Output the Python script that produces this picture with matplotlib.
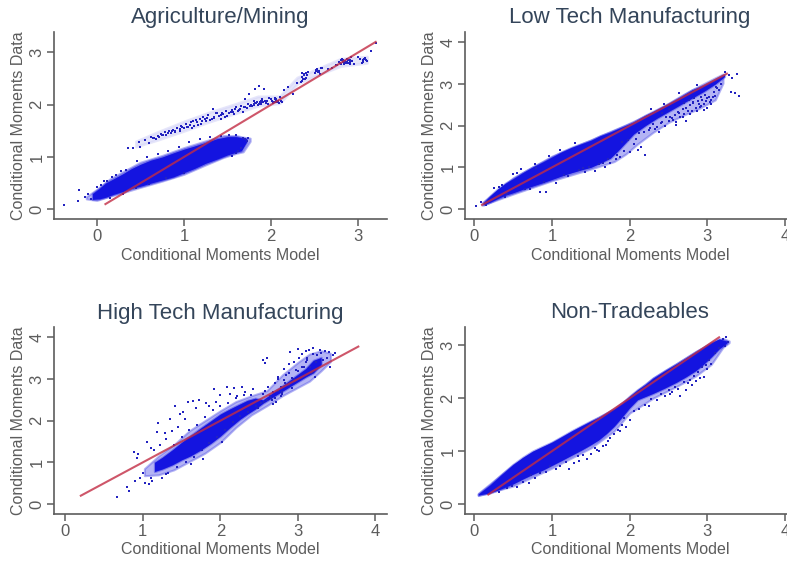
import matplotlib
matplotlib.use('Agg')
import matplotlib.pyplot as plt

# titles and labels
titles = ['Agriculture/Mining', 'Low Tech Manufacturing', 'High Tech Manufacturing', 'Non-Tradeables']
x_label = 'Conditional Moments Model'
y_label = 'Conditional Moments Data'

# ticks
ag_xticks = [0, 1, 2, 3]
ag_yticks = [0, 1, 2, 3]
low_xticks = [0, 1, 2, 3, 4]
low_yticks = [0, 1, 2, 3, 4]
high_xticks = [0, 1, 2, 3, 4]
high_yticks = [0, 1, 2, 3, 4]
non_xticks = [0, 1, 2, 3, 4]
non_yticks = [0, 1, 2, 3]

# fitted lines
ag_line = [0.1, 3.2]
low_line = [0.1, 3.25]
high_line = [0.2, 3.78]
non_line = [0.18, 3.15]

# solid part of each cloud, upper and lower edge
ag_band_x = [-0.05, 0.03, 0.1, 0.2, 0.3, 0.4, 0.5, 0.62, 0.75, 0.88, 1.0, 1.12, 1.25, 1.38, 1.5, 1.6, 1.66, 1.72]
ag_band_lo = [0.19, 0.2, 0.23, 0.29, 0.34, 0.4, 0.44, 0.5, 0.56, 0.62, 0.7, 0.78, 0.88, 0.96, 1.04, 1.09, 1.12, 1.29]
ag_band_hi = [0.3, 0.4, 0.5, 0.59, 0.68, 0.78, 0.86, 0.94, 1.0, 1.08, 1.15, 1.21, 1.28, 1.35, 1.39, 1.39, 1.37, 1.35]

low_band_x = [0.12, 0.2, 0.3, 0.4, 0.5, 0.62, 0.75, 0.88, 1.0, 1.12, 1.25, 1.38, 1.5, 1.62, 1.75, 1.85, 1.95, 2.05, 2.2, 2.35, 2.5, 2.65, 2.8, 2.95, 3.1, 3.22]
low_band_lo = [0.1, 0.16, 0.25, 0.33, 0.39, 0.47, 0.55, 0.63, 0.71, 0.79, 0.87, 0.94, 1.0, 1.1, 1.22, 1.4, 1.6, 1.8, 2.0, 2.18, 2.34, 2.5, 2.66, 2.82, 3.0, 3.18]
low_band_hi = [0.16, 0.31, 0.48, 0.62, 0.73, 0.87, 1.01, 1.13, 1.25, 1.37, 1.48, 1.57, 1.65, 1.76, 1.85, 1.93, 2.01, 2.09, 2.25, 2.39, 2.53, 2.69, 2.86, 2.97, 3.11, 3.23]

high_band_x = [1.15, 1.25, 1.38, 1.5, 1.62, 1.75, 1.88, 2.0, 2.12, 2.25, 2.35, 2.45, 2.55, 3.1, 3.2, 3.3]
high_band_lo = [0.78, 0.84, 0.94, 1.06, 1.16, 1.3, 1.46, 1.63, 1.83, 2.03, 2.16, 2.28, 2.42, 3.05, 3.15, 3.35]
high_band_hi = [1.0, 1.12, 1.3, 1.48, 1.65, 1.83, 2.0, 2.16, 2.28, 2.4, 2.49, 2.54, 2.5, 3.25, 3.45, 3.52]

non_band_x = [0.05, 0.2, 0.35, 0.5, 0.62, 0.75, 0.88, 1.0, 1.12, 1.25, 1.38, 1.5, 1.6, 1.7, 1.8, 1.9, 2.0, 2.1, 2.2, 2.3, 2.45, 2.6, 2.72, 2.85, 2.95, 3.05, 3.15, 3.25]
non_band_lo = [0.17, 0.21, 0.29, 0.38, 0.47, 0.56, 0.64, 0.73, 0.82, 0.92, 1.02, 1.12, 1.21, 1.33, 1.47, 1.64, 1.82, 1.97, 2.03, 2.09, 2.19, 2.3, 2.4, 2.52, 2.64, 2.78, 2.93, 3.04]
non_band_hi = [0.19, 0.36, 0.56, 0.75, 0.88, 1.0, 1.09, 1.17, 1.27, 1.38, 1.48, 1.57, 1.64, 1.72, 1.8, 1.9, 2.04, 2.16, 2.26, 2.38, 2.52, 2.65, 2.76, 2.88, 2.96, 3.05, 3.12, 3.08]

# thinner speckled part of each cloud, drawn in a paler blue behind the solid part
ag_pale_x = [-0.12, 0.0, 0.15, 0.3, 0.5, 0.75, 1.0, 1.25, 1.45, 1.6, 1.68, 1.76]
ag_pale_lo = [0.2, 0.17, 0.25, 0.32, 0.42, 0.54, 0.67, 0.85, 0.99, 1.07, 1.1, 1.3]
ag_pale_hi = [0.24, 0.38, 0.58, 0.72, 0.9, 1.03, 1.18, 1.31, 1.41, 1.41, 1.38, 1.36]

ag_upper_x = [0.45, 0.7, 1.0, 1.3, 1.6, 1.85, 2.1, 2.3, 2.55, 2.8, 3.1]
ag_upper_lo = [1.2, 1.33, 1.5, 1.68, 1.84, 1.98, 2.03, 2.4, 2.58, 2.74, 2.8]
ag_upper_hi = [1.3, 1.48, 1.68, 1.86, 2.02, 2.16, 2.16, 2.52, 2.7, 2.88, 2.92]

low_pale_x = [0.1, 0.5, 1.0, 1.5, 1.8, 1.95, 2.1, 2.3, 2.5, 2.7, 2.9, 3.1, 3.2]
low_pale_lo = [0.09, 0.36, 0.68, 0.96, 1.14, 1.32, 1.56, 1.84, 2.08, 2.26, 2.42, 2.62, 3.02]
low_pale_hi = [0.15, 0.75, 1.27, 1.66, 1.9, 2.02, 2.15, 2.33, 2.54, 2.76, 2.96, 3.15, 3.24]

high_pale_x = [1.02, 1.2, 1.4, 1.6, 1.8, 2.0, 2.2, 2.4, 2.6, 2.8, 3.0, 3.15, 3.3, 3.42]
high_pale_lo = [0.68, 0.7, 0.82, 1.02, 1.22, 1.48, 1.84, 2.14, 2.36, 2.6, 2.8, 2.95, 3.2, 3.42]
high_pale_hi = [0.85, 1.15, 1.42, 1.76, 2.0, 2.24, 2.46, 2.6, 2.72, 3.1, 3.4, 3.6, 3.68, 3.62]

non_pale_x = [0.05, 0.5, 1.0, 1.5, 1.8, 2.0, 2.3, 2.6, 2.85, 3.05, 3.2, 3.28]
non_pale_lo = [0.16, 0.34, 0.68, 1.06, 1.38, 1.72, 2.0, 2.22, 2.42, 2.64, 2.96, 3.05]
non_pale_hi = [0.2, 0.74, 1.16, 1.56, 1.8, 2.03, 2.38, 2.65, 2.88, 3.05, 3.13, 3.08]

# separate points, upper branch and edges
ag_x = [-0.37, -0.22, -0.2, -0.14, -0.1, -0.07, 0.0, 0.05, 0.12, 0.18,
        0.28, 0.36, 0.42, 0.48, 0.5, 0.55, 0.6, 0.64, 0.68, 0.7,
        0.72, 0.75, 0.78, 0.8, 0.83, 0.85, 0.88, 0.9, 0.92, 0.95,
        0.97, 1.0, 1.02, 1.05, 1.07, 1.1, 1.12, 1.15, 1.18, 1.2,
        1.22, 1.25, 1.28, 1.3, 1.33, 1.35, 1.38, 1.4, 1.42, 1.45,
        1.48, 1.5, 1.52, 1.55, 1.58, 1.6, 1.62, 1.65, 1.68, 1.7,
        1.72, 1.75, 1.78, 1.8, 1.82, 1.84, 1.86, 1.88, 1.9, 1.92,
        1.95, 2.0, 2.03, 2.05, 2.08, 2.1, 2.15, 2.2, 2.25, 2.3,
        2.35, 2.38, 2.4, 2.42, 2.5, 2.53, 2.55, 2.58, 2.65, 2.7,
        2.75, 2.8, 2.83, 2.85, 2.87, 2.9, 2.95, 3.0, 3.05, 3.1,
        3.15, 3.2, 1.7, 1.72, 1.68, 1.62, 1.6, 1.66, 1.55, 1.74,
        1.84, 1.86, 1.9, 1.8, 2.04, 2.07, 2.02, 2.38, 2.36, 2.4,
        2.84, 2.86, 2.88, 2.82, 2.9, 2.8, 3.07, 3.09, 2.55, 2.53,
        0.62, 0.74, 0.86, 0.98, 1.08, 1.16, 1.24, 1.34, 1.44, 1.56,
        1.64, 1.7, 1.76, 1.82, 1.88, 1.94, 1.98, 2.06, 2.12, 2.36,
        2.39, 2.52, 2.56, 2.78, 2.81, 2.84, 2.87, 2.89, 2.92, 3.04,
        0.08, 0.22, 0.34, 0.46, 0.58, 0.7, 0.82, 0.94, 1.06, 1.18,
        1.3, 1.42, 1.52, 1.6, 0.15, 0.3, 0.45, 0.6, 0.8, 1.0,
        0.66, 0.76, 0.82, 0.9, 0.96, 1.03, 1.09, 1.14, 1.21, 1.26,
        1.32, 1.37, 1.43, 1.47, 1.54, 1.59, 1.63, 1.69, 1.73, 1.77,
        1.81, 1.83, 1.85, 1.87, 1.89, 1.91, 1.93, 1.96, 2.01, 2.04,
        2.06, 2.09, 2.11, 2.34, 2.37, 2.41, 2.51, 2.54, 2.57, 2.76,
        2.79, 2.82, 2.85, 2.86, 2.88, 2.91, 2.93, 3.02, 3.06, 3.08]
ag_y = [0.09, 0.16, 0.36, 0.24, 0.3, 0.2, 0.42, 0.47, 0.54, 0.62,
        0.74, 1.18, 1.17, 1.29, 1.2, 1.33, 1.26, 1.37, 1.34, 1.4,
        1.38, 1.43, 1.47, 1.42, 1.5, 1.46, 1.52, 1.48, 1.56, 1.5,
        1.6, 1.55, 1.64, 1.58, 1.62, 1.68, 1.6, 1.66, 1.72, 1.64,
        1.76, 1.68, 1.8, 1.7, 1.92, 1.75, 1.85, 1.78, 1.72, 1.82,
        1.88, 1.78, 1.84, 1.9, 1.82, 1.95, 1.88, 1.98, 1.86, 2.1,
        1.94, 2.2, 1.98, 2.02, 2.3, 2.06, 2.36, 2.04, 2.1, 2.3,
        2.08, 2.1, 2.05, 2.12, 2.08, 2.15, 2.28, 2.34, 2.2, 2.42,
        2.46, 2.58, 2.52, 2.62, 2.6, 2.66, 2.62, 2.7, 2.68, 2.7,
        2.75, 2.78, 2.84, 2.8, 2.88, 2.82, 2.78, 2.92, 2.86, 2.84,
        3.02, 3.18, 1.34, 1.3, 1.37, 1.12, 1.08, 1.18, 1.02, 1.36,
        2.05, 2.02, 2.07, 2.08, 2.1, 2.06, 2.03, 2.56, 2.53, 2.6,
        2.84, 2.8, 2.86, 2.82, 2.78, 2.85, 2.88, 2.85, 2.64, 2.68,
        1.38, 1.44, 1.5, 1.58, 1.66, 1.62, 1.72, 1.76, 1.84, 1.86,
        1.92, 1.95, 1.98, 2.03, 2.08, 2.04, 2.12, 2.1, 2.05, 2.6,
        2.5, 2.67, 2.58, 2.82, 2.87, 2.78, 2.82, 2.86, 2.92, 2.8,
        0.54, 0.66, 0.76, 0.92, 1.0, 1.06, 1.12, 1.2, 1.28, 1.34,
        1.38, 1.4, 1.43, 1.42, 0.22, 0.3, 0.4, 0.48, 0.6, 0.7,
        1.36, 1.42, 1.46, 1.5, 1.54, 1.58, 1.56, 1.7, 1.68, 1.74,
        1.72, 1.84, 1.8, 1.76, 1.86, 1.92, 1.9, 1.96, 2.02, 2.0,
        2.0, 2.04, 2.0, 2.06, 2.02, 2.05, 2.08, 2.02, 2.07, 2.05,
        2.08, 2.03, 2.08, 2.44, 2.5, 2.56, 2.64, 2.62, 2.7, 2.76,
        2.8, 2.86, 2.84, 2.82, 2.8, 2.86, 2.84, 2.88, 2.82, 2.9]

low_x = [0.02, 0.08, 0.15, 0.25, 0.32, 0.42, 0.5, 0.6, 0.72, 0.8,
         0.85, 0.92, 1.05, 1.2, 1.3, 1.42, 1.55, 1.68, 1.75, 1.82,
         1.88, 1.93, 2.0, 2.05, 2.1, 2.15, 2.2, 1.9, 1.98, 2.08,
         2.12, 2.18, 2.25, 2.3, 2.35, 2.38, 2.42, 2.45, 2.5, 2.52,
         2.55, 2.58, 2.6, 2.62, 2.65, 2.68, 2.7, 2.72, 2.75, 2.78,
         2.8, 2.82, 2.85, 2.88, 2.9, 2.92, 2.95, 2.98, 3.0, 3.02,
         3.05, 3.08, 3.1, 3.12, 3.15, 3.18, 3.22, 3.28, 3.32, 3.35,
         3.4, 3.3, 3.38, 2.42, 2.5, 2.6, 2.7, 2.82, 2.95, 3.05,
         0.35, 0.55, 0.78, 0.96, 1.1, 1.35, 1.48, 1.6, 1.72, 1.84,
         0.4, 0.65, 0.9, 1.15, 1.4, 1.65, 2.28, 2.44, 2.64, 2.86,
         2.26, 2.32, 2.4, 2.47, 2.56, 2.63, 2.69, 2.76, 2.83, 2.89,
         2.93, 2.97, 3.03, 3.07, 3.11, 2.72, 2.78, 2.86, 2.92, 3.0]
low_y = [0.08, 0.17, 0.1, 0.5, 0.52, 0.35, 0.83, 0.95, 0.48, 0.98,
         0.4, 0.42, 0.62, 0.8, 1.58, 0.88, 0.92, 1.0, 1.1, 1.2,
         1.25, 1.4, 1.36, 1.55, 1.42, 1.5, 1.3, 1.6, 1.65, 1.68,
         1.82, 1.86, 1.9, 2.03, 1.98, 1.85, 2.1, 2.0, 2.12, 2.22,
         2.18, 2.25, 2.1, 2.32, 2.2, 2.4, 2.28, 2.42, 2.35, 2.5,
         2.36, 2.55, 2.42, 2.6, 2.45, 2.7, 2.52, 2.6, 2.42, 2.7,
         2.62, 2.8, 2.72, 2.9, 2.85, 3.0, 3.3, 3.22, 3.15, 2.78,
         2.72, 2.8, 3.25, 2.3, 2.4, 2.02, 2.55, 2.58, 2.38, 2.52,
         0.58, 0.86, 1.08, 1.28, 1.42, 0.94, 1.02, 1.08, 1.2, 1.3,
         0.3, 0.48, 0.66, 0.82, 0.98, 1.1, 2.4, 2.52, 2.78, 2.98,
         1.95, 1.92, 2.06, 2.2, 2.14, 2.3, 2.2, 2.62, 2.66, 2.52,
         2.62, 2.74, 2.58, 2.68, 2.92, 2.12, 2.28, 2.36, 2.48, 2.66]

high_x = [0.67, 0.8, 0.82, 0.88, 0.92, 0.94, 0.9, 0.96, 1.0, 1.03,
          1.05, 1.08, 1.1, 1.12, 1.15, 1.18, 1.2, 1.22, 1.1, 1.25,
          1.28, 1.3, 1.33, 1.35, 1.38, 1.42, 1.45, 1.48, 1.52, 1.55,
          1.58, 1.62, 1.65, 1.68, 1.72, 1.78, 1.82, 1.85, 1.92, 1.95,
          2.0, 2.02, 2.08, 2.12, 2.18, 2.22, 2.28, 2.32, 2.4, 2.42,
          2.48, 2.52, 2.55, 2.58, 2.6, 2.65, 2.68, 2.72, 2.75, 2.78,
          2.8, 2.82, 2.85, 2.88, 2.9, 2.92, 2.95, 2.98, 3.0, 3.02,
          3.05, 3.08, 3.1, 3.12, 3.15, 3.18, 3.2, 3.22, 3.25, 3.28,
          3.3, 3.32, 3.35, 3.38, 3.4, 3.42, 3.45, 3.48, 2.55, 2.58,
          2.7, 2.75, 2.82, 2.62, 2.68, 2.78, 2.88, 2.95, 3.05, 3.1,
          2.6, 2.64, 2.7, 2.74, 2.8, 2.84, 2.88, 2.92, 2.96, 3.0,
          3.04, 3.08, 3.12, 3.16, 3.2, 3.24, 1.4, 1.5, 1.6, 1.7,
          1.8, 1.9, 2.0, 2.1, 2.2, 2.3, 1.3, 1.44, 1.56, 1.66,
          1.76, 1.86, 1.96, 2.06, 2.16, 2.26, 2.36, 2.46, 2.56, 2.66]
high_y = [0.18, 0.4, 0.32, 1.25, 1.1, 1.2, 0.55, 0.62, 0.75, 0.5,
          1.5, 0.48, 1.35, 0.55, 1.3, 1.72, 1.95, 1.42, 0.62, 0.62,
          1.7, 1.55, 0.75, 2.05, 1.75, 2.35, 1.85, 2.15, 2.22, 2.05,
          2.45, 0.95, 2.48, 2.3, 2.5, 1.08, 2.42, 2.35, 2.75, 2.45,
          2.62, 1.48, 2.8, 2.65, 2.78, 2.6, 2.82, 2.7, 2.62, 2.75,
          2.3, 2.42, 3.45, 3.38, 3.5, 2.55, 2.4, 2.45, 3.0, 2.6,
          2.65, 3.25, 3.1, 3.35, 3.65, 2.78, 3.4, 3.22, 3.72, 3.5,
          3.6, 3.3, 3.68, 3.45, 3.7, 3.15, 3.74, 3.05, 3.58, 3.7,
          3.62, 3.45, 3.68, 3.5, 3.64, 3.3, 3.58, 3.62, 2.65, 2.72,
          2.9, 3.05, 2.98, 2.82, 2.7, 2.8, 3.15, 3.0, 3.3, 3.4,
          2.5, 2.6, 2.55, 2.72, 2.68, 2.9, 2.85, 3.02, 2.96, 3.2,
          3.02, 3.3, 3.5, 3.28, 3.6, 3.4, 1.42, 1.62, 1.78, 1.9,
          2.1, 2.25, 2.35, 2.42, 2.55, 2.62, 0.72, 0.9, 1.0, 1.14,
          1.3, 1.46, 1.6, 1.78, 1.98, 2.12, 2.22, 2.36, 2.46, 2.5]

non_x = [0.32, 0.42, 0.48, 0.55, 0.62, 0.7, 0.73, 0.78, 0.85, 0.92,
         0.98, 1.05, 1.1, 1.18, 1.22, 1.28, 1.33, 1.4, 1.45, 1.5,
         1.55, 1.6, 1.65, 1.7, 1.75, 1.8, 1.85, 1.9, 1.95, 2.0,
         2.05, 2.12, 2.2, 2.28, 2.35, 2.4, 2.45, 2.5, 2.55, 2.58,
         2.62, 2.65, 2.7, 2.72, 2.75, 2.78, 2.8, 2.83, 2.85, 2.88,
         2.9, 2.93, 2.95, 2.98, 3.0, 3.02, 3.05, 3.1, 3.15, 3.2,
         3.24, 3.27, 3.22, 1.88, 1.92, 1.35, 1.58, 1.72, 2.25, 2.52]
non_y = [0.22, 0.3, 0.34, 0.32, 0.42, 0.4, 0.54, 0.5, 0.58, 0.6,
         0.72, 0.66, 0.72, 0.8, 0.66, 0.78, 0.9, 0.92, 0.85, 0.95,
         1.05, 1.0, 1.1, 1.12, 1.25, 1.32, 1.4, 1.5, 1.45, 1.58,
         1.75, 1.8, 1.88, 1.98, 1.96, 2.08, 2.05, 2.15, 2.12, 2.22,
         2.18, 2.05, 2.3, 2.15, 2.28, 2.35, 2.25, 2.42, 2.32, 2.5,
         2.38, 2.58, 2.4, 2.62, 2.55, 2.72, 2.65, 2.85, 2.95, 3.12,
         3.16, 3.06, 2.98, 1.38, 1.62, 0.82, 1.02, 1.2, 1.85, 2.08]

# pixel box of each panel: left, right, top, bottom
boxes = [(54, 387, 32, 219), (465, 787, 32, 219), (54, 387, 327, 514), (465, 787, 327, 514)]
xlims = [(-0.49, 3.33), (-0.12, 4.024), (-0.146, 4.15), (-0.12, 4.024)]
ylims = [(-0.185, 3.39), (-0.24, 4.25), (-0.24, 4.25), (-0.188, 3.345)]

bands = [(ag_band_x, ag_band_lo, ag_band_hi), (low_band_x, low_band_lo, low_band_hi),
         (high_band_x, high_band_lo, high_band_hi), (non_band_x, non_band_lo, non_band_hi)]
pales = [[(ag_pale_x, ag_pale_lo, ag_pale_hi), (ag_upper_x, ag_upper_lo, ag_upper_hi)],
         [(low_pale_x, low_pale_lo, low_pale_hi)],
         [(high_pale_x, high_pale_lo, high_pale_hi)],
         [(non_pale_x, non_pale_lo, non_pale_hi)]]
points = [(ag_x, ag_y), (low_x, low_y), (high_x, high_y), (non_x, non_y)]
lines = [ag_line, low_line, high_line, non_line]
xticks = [ag_xticks, low_xticks, high_xticks, non_xticks]
yticks = [ag_yticks, low_yticks, high_yticks, non_yticks]

W, H = 787, 562
plt.rcParams['font.family'] = ['Liberation Sans', 'DejaVu Sans']
fig = plt.figure(figsize=(W / 100, H / 100), dpi=100)

gray = '#5c5c5c'
blue = '#1414e0'

for i in range(4):
    left, right, top, bottom = boxes[i]
    ax = fig.add_axes([left / W, 1 - bottom / H, (right - left) / W, (bottom - top) / H])
    ax.set_xlim(xlims[i])
    ax.set_ylim(ylims[i])

    for j, (bx, lo, hi) in enumerate(pales[i]):
        # the upper branch of the first panel is thinner than the rest
        if j == 1:
            ax.fill_between(bx, lo, hi, color='#d6d6f8', lw=2, alpha=0.6, zorder=1)
        else:
            ax.fill_between(bx, lo, hi, color='#5a5ae8', lw=1.5, alpha=0.45, zorder=1)
    bx, lo, hi = bands[i]
    # wide faint edge first so the cloud does not end in a hard line
    ax.fill_between(bx, lo, hi, color=blue, lw=1.6, alpha=0.35, zorder=2)
    ax.fill_between(bx, lo, hi, color=blue, lw=0, zorder=2)
    px, py = points[i]
    ax.scatter(px, py, s=3.0, color='#2222c0', marker='s', lw=0, zorder=3)
    ax.plot(lines[i], lines[i], color='#c22c44', lw=1.5, alpha=0.8, zorder=4)

    ax.set_xticks(xticks[i])
    ax.set_yticks(yticks[i])
    ax.tick_params(length=5, width=1.1, color=gray, labelcolor=gray, labelsize=12, pad=2)
    plt.setp(ax.get_yticklabels(), rotation=90, va='center')
    for side in ['top', 'right']:
        ax.spines[side].set_visible(False)
    for side in ['left', 'bottom']:
        ax.spines[side].set_color(gray)
        ax.spines[side].set_linewidth(1.2)

    # title and axis labels sit at fixed pixel offsets
    shift = 4 if right > 500 else 0
    fig.text(((left + right) / 2 + shift) / W, 1 - (top - 14) / H, titles[i],
             ha='center', va='center', fontsize=16, color='#34455a')
    fig.text(((left + right) / 2 + shift) / W, 1 - (bottom + 36) / H, x_label,
             ha='center', va='center', fontsize=11.5, color=gray)
    fig.text((left - 35) / W, 1 - (top + bottom) / 2 / H, y_label, rotation=90,
             ha='center', va='center', fontsize=11.5, color=gray)

fig.savefig('out.png', dpi=100)
